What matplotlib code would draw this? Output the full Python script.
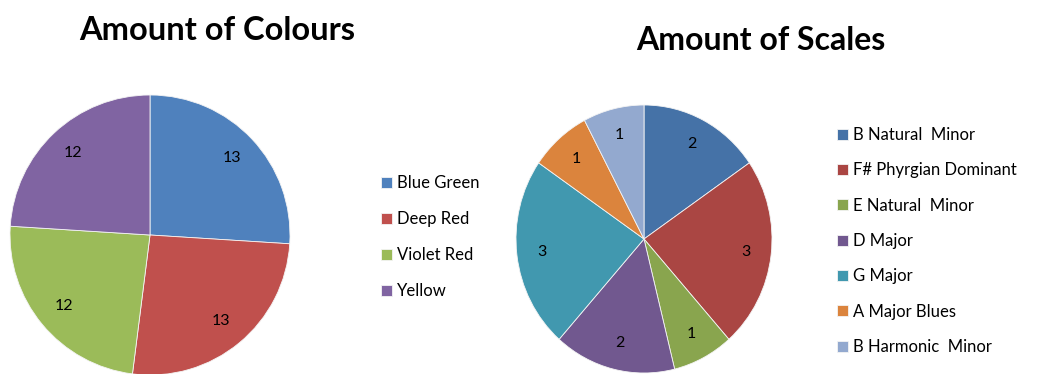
import matplotlib.pyplot as plt

plt.rcParams['font.family'] = ['Lato', 'DejaVu Sans']

# data
colour_names = ['Blue Green', 'Deep Red', 'Violet Red', 'Yellow']
colour_counts = [13, 13, 12, 12]
colour_cols = ['#4F81BD', '#C0504D', '#9BBB59', '#8064A2']

scale_names = ['B Natural  Minor', 'F# Phyrgian Dominant', 'E Natural  Minor',
               'D Major', 'G Major', 'A Major Blues', 'B Harmonic  Minor']
scale_counts = [2, 3, 1, 2, 3, 1, 1]
scale_cols = ['#4572A7', '#AA4643', '#89A54E', '#71588F', '#4198AF', '#DB843D', '#93A9CF']

W, H = 1056, 374
fig = plt.figure(figsize=(W / 100, H / 100), dpi=100)


def px_axes(cx, cy, rx, ry):
    # axes box from pixel centre/radii (y measured from top)
    return fig.add_axes([(cx - rx) / W, (H - cy - ry) / H, 2 * rx / W, 2 * ry / H])


def draw_pie(ax, vals, cols):
    total = sum(vals)
    wedges, _, autotexts = ax.pie(
        vals, colors=cols, startangle=90, counterclock=False,
        autopct=lambda p: '{:d}'.format(int(round(p * total / 100))),
        pctdistance=0.8, wedgeprops={'linewidth': 0.6, 'edgecolor': '#f4f4f4'},
        textprops={'fontsize': 11.5, 'color': 'black'})
    ax.set_aspect('auto')
    ax.set_xlim(-1, 1)
    ax.set_ylim(-1, 1)
    return wedges


ax1 = px_axes(150, 235, 140, 140)
w1 = draw_pie(ax1, colour_counts, colour_cols)

ax2 = px_axes(644, 239, 128, 134)
w2 = draw_pie(ax2, scale_counts, scale_cols)

fig.text(217 / W, 1 - 30 / H, 'Amount of Colours', ha='center', va='center',
         fontsize=23.5, fontweight='bold')
fig.text(761 / W, 1 - 40 / H, 'Amount of Scales', ha='center', va='center',
         fontsize=23, fontweight='bold')

leg_kw = dict(frameon=False, fontsize=12, handlelength=0.65, handleheight=0.65,
              handletextpad=0.3, borderaxespad=0, borderpad=0, loc='upper left')
fig.legend(w1, colour_names, bbox_to_anchor=(381 / W, 1 - 175 / H),
           labelspacing=1.2, **leg_kw)
fig.legend(w2, scale_names, bbox_to_anchor=(837 / W, 1 - 127 / H),
           labelspacing=1.16, **leg_kw)

fig.savefig('out.png', dpi=100)
